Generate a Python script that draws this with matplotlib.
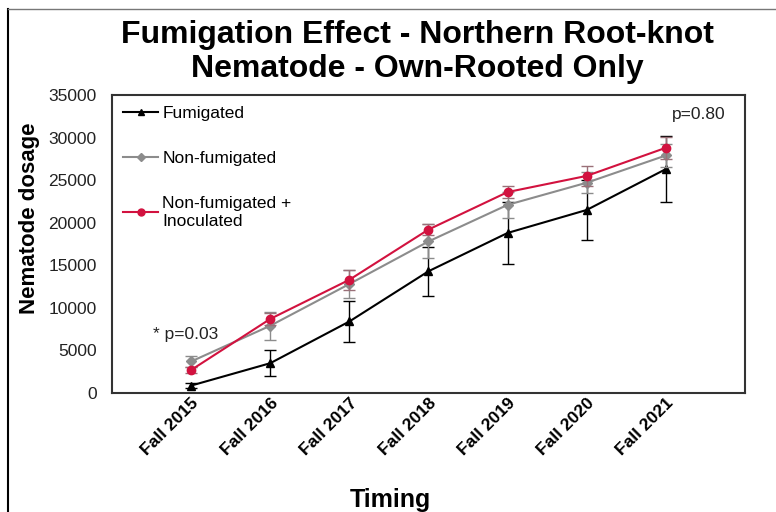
import matplotlib
matplotlib.use("Agg")
import matplotlib.pyplot as plt
from matplotlib.lines import Line2D

plt.rcParams['font.family'] = ['Liberation Sans', 'DejaVu Sans']

categories = ["Fall 2015", "Fall 2016", "Fall 2017", "Fall 2018", "Fall 2019", "Fall 2020", "Fall 2021"]
fumigated = [870, 3500, 8400, 14300, 18800, 21500, 26300]
fumigated_err = [300, 1550, 2400, 2900, 3600, 3500, 3900]
nonfumigated = [3700, 7900, 12800, 17800, 22100, 24700, 27900]
nonfumigated_err = [600, 1650, 1600, 2000, 1500, 1200, 1300]
inoculated = [2700, 8700, 13300, 19200, 23600, 25500, 28800]
inoculated_err = [400, 700, 1200, 700, 700, 1200, 1300]
yticks = [0, 5000, 10000, 15000, 20000, 25000, 30000, 35000]

W, H = 776, 512
fig = plt.figure(figsize=(W / 100, H / 100), dpi=100)
ax = fig.add_axes([112 / W, 1 - 393 / H, (745 - 112) / W, (393 - 95) / H])

FUM_C, NON_C, INO_C = 'black', '#8c8c8c', '#d2123f'
x = list(range(len(categories)))
ax.errorbar(x, fumigated, yerr=fumigated_err, color=FUM_C, marker='^', markersize=6,
            lw=1.5, capsize=4, elinewidth=1, zorder=3)
ax.errorbar(x, nonfumigated, yerr=nonfumigated_err, color=NON_C, marker='D', markersize=5,
            lw=1.5, capsize=4, elinewidth=1, zorder=4)
ax.errorbar(x, inoculated, yerr=inoculated_err, color=INO_C, marker='o', markersize=6,
            lw=1.5, capsize=4, elinewidth=1, ecolor='#9a7078', zorder=5)

ax.set_xlim(-1, 7)
ax.set_ylim(0, 35000)
ax.set_yticks(yticks)
ax.set_yticklabels([str(v) for v in yticks], fontsize=12.5, color='#222222')
ax.set_xticks(x)
ax.set_xticklabels(categories, rotation=45, ha='right', rotation_mode='anchor',
                   fontsize=12.5, fontweight='bold')
ax.tick_params(axis='y', length=0, pad=11)
ax.tick_params(axis='x', length=0, pad=2)
for s in ax.spines.values():
    s.set_color('#333333')
    s.set_linewidth(1.5)

handles = [
    Line2D([], [], color=FUM_C, marker='^', markersize=5, lw=1.5),
    Line2D([], [], color=NON_C, marker='D', markersize=4, lw=1.5),
    Line2D([], [], color=INO_C, marker='o', markersize=5, lw=1.5),
]
labels = ['Fumigated', 'Non-fumigated', 'Non-fumigated +\nInoculated']
leg = ax.legend(handles, labels, loc='upper left', frameon=False, fontsize=12.5, handlelength=2.0,
                handletextpad=0.25, labelspacing=1.7, borderaxespad=0.35, borderpad=0.3)
for t in leg.get_texts():
    t.set_linespacing(1.3)

ax.annotate("* p=0.03", xy=(153, 512 - 335), xycoords='figure pixels', fontsize=12.5,
            va='center', ha='left', color='#222222')
ax.annotate("p=0.80", xy=(672, 512 - 115), xycoords='figure pixels', fontsize=12.5,
            va='center', ha='left', color='#222222')

fig.text(417 / W, 1 - 52 / H, "Fumigation Effect - Northern Root-knot\nNematode - Own-Rooted Only",
         ha='center', va='center', fontsize=23, fontweight='bold', linespacing=1.2)
fig.text(30 / W, 1 - 218 / H, "Nematode dosage", rotation=90, ha='center', va='center',
         fontsize=16, fontweight='bold')
fig.text(390 / W, 1 - 500 / H, "Timing", ha='center', va='center', fontsize=18, fontweight='bold')

fig.add_artist(Line2D([8 / W, 8 / W], [0, 1 - 9 / H], transform=fig.transFigure, color='black', lw=1.5))
fig.add_artist(Line2D([8 / W, 1], [1 - 9 / H, 1 - 9 / H], transform=fig.transFigure, color='#777777', lw=1))

fig.savefig("out.png", dpi=100)
